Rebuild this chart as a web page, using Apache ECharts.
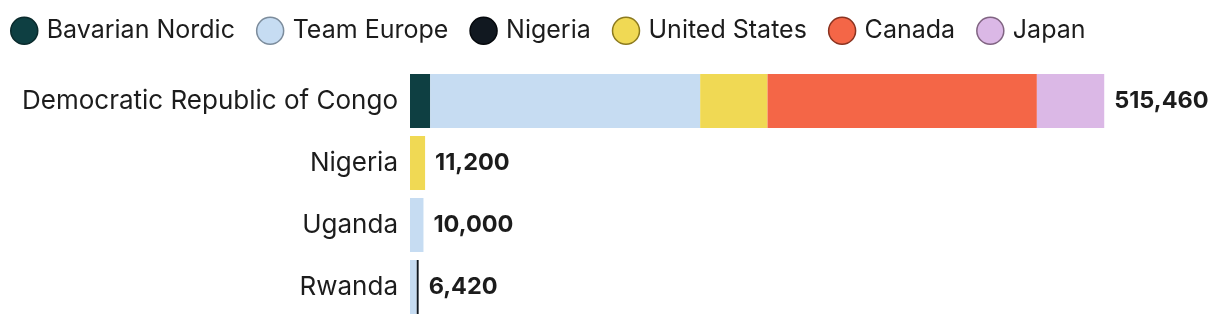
<!DOCTYPE html>
<html><head><meta charset="utf-8">
<script src="https://cdn.jsdelivr.net/npm/echarts@6/dist/echarts.min.js"></script>
<style>html,body{margin:0;padding:0;background:#fff}#c{width:1220px;height:324px}</style>
</head><body><div id="c"></div>
<script>
var categories = ['Democratic Republic of Congo', 'Nigeria', 'Uganda', 'Rwanda'];
var donors = ['Bavarian Nordic', 'Team Europe', 'Nigeria', 'United States', 'Canada', 'Japan'];
var bavarianNordic = [15000, 0, 0, 0];
var teamEurope = [200460, 0, 10000, 5000];
var nigeriaDonor = [0, 0, 0, 1420];
var unitedStates = [50000, 11200, 0, 0];
var canada = [200000, 0, 0, 0];
var japan = [50000, 0, 0, 0];
var totalLabels = ['515,460', '11,200', '10,000', '6,420'];

var colors = ['#0e3f42', '#c6dcf2', '#111820', '#f0d954', '#f46647', '#dbb8e6'];
var borders = ['#0a2a2c', '#7c8c9c', '#05080c', '#8c7a1e', '#8a3320', '#806482'];
var seriesData = [bavarianNordic, teamEurope, nigeriaDonor, unitedStates, canada, japan];
var FONT = 'Inter';

var series = donors.map(function (name, i) {
  return {
    name: name, type: 'bar', stack: 'a', barWidth: 54,
    itemStyle: { color: colors[i] },
    emphasis: { disabled: true },
    data: seriesData[i]
  };
});
series.push({
  name: 'total', type: 'bar', stack: 'a', barWidth: 54,
  itemStyle: { color: 'transparent' },
  data: categories.map(function () { return 0; }),
  label: {
    show: true, position: 'right', distance: 10,
    formatter: function (p) { return totalLabels[p.dataIndex]; },
    fontFamily: FONT, fontSize: 23.5, fontWeight: 'bold', color: '#1c1c1c'
  }
});

var chart = echarts.init(document.getElementById('c'), null, { renderer: 'canvas' });
chart.setOption({
  animation: false,
  legend: {
    left: 5, top: 11.5, icon: 'circle', itemWidth: 27, itemHeight: 27, itemGap: 21,
    selectedMode: false,
    textStyle: { fontFamily: FONT, fontSize: 25, color: '#1c1c1c', padding: [0, 0, 8, 4] },
    data: donors.map(function (n, i) {
      return { name: n, itemStyle: { borderColor: borders[i], borderWidth: 1.5 } };
    })
  },
  grid: { left: 410, right: 10, top: 70, bottom: 6, containLabel: false },
  xAxis: { type: 'value', min: 0, max: 594000, show: false },
  yAxis: {
    type: 'category', data: categories, inverse: true,
    axisLine: { show: false }, axisTick: { show: false },
    axisLabel: { margin: 12, fontFamily: FONT, fontSize: 26, color: '#1c1c1c' }
  },
  series: series
});
</script></body></html>
